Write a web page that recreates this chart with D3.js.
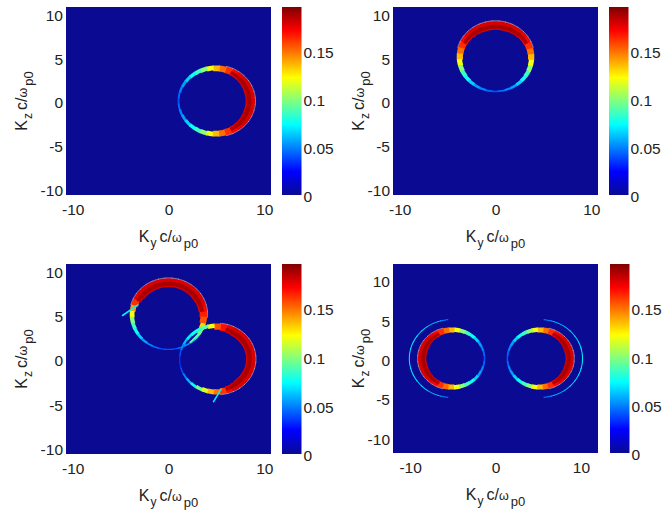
<!DOCTYPE html>
<html>
<head>
<meta charset="utf-8">
<script src="https://cdn.jsdelivr.net/npm/d3@7"></script>
<style>
body { margin: 0; background: #fff; }
svg text { font-family: "Liberation Sans", Arial, sans-serif; fill: #222; }
</style>
</head>
<body>
<div id="chart"></div>
<script>
// tick values
const xTicks = [-10, 0, 10];
const yTicks = [-10, -5, 0, 5, 10];
const cbarTicks = [0, 0.05, 0.1, 0.15];
const cMax = 0.195;
// half range of K (in c/omega_p0) shown in each panel
const kRange = [10.7, 10.7, 10.7, 12];

// angle grid of the ring samples (deg, counter clockwise from +Ky)
const angles = [0, 10, 20, 30, 40, 50, 60, 70, 80, 90, 100, 110, 120, 130, 140, 150, 160, 170,
  180, 190, 200, 210, 220, 230, 240, 250, 260, 270, 280, 290, 300, 310, 320, 330, 340, 350];

// intensity and band width of a single ring, measured from its bright side
const profileVal = [0.178, 0.178, 0.178, 0.178, 0.178, 0.175, 0.17, 0.162, 0.15, 0.135, 0.12, 0.10,
  0.085, 0.075, 0.065, 0.055, 0.05, 0.045, 0.04, 0.045, 0.05, 0.055, 0.065, 0.075,
  0.085, 0.10, 0.12, 0.135, 0.15, 0.162, 0.17, 0.175, 0.178, 0.178, 0.178, 0.178];
const profileW = [1.0, 1.0, 1.0, 0.95, 0.9, 0.85, 0.8, 0.75, 0.7, 0.65, 0.55, 0.5,
  0.45, 0.4, 0.35, 0.3, 0.25, 0.2, 0.18, 0.2, 0.25, 0.3, 0.35, 0.4,
  0.45, 0.5, 0.55, 0.65, 0.7, 0.75, 0.8, 0.85, 0.9, 0.95, 1.0, 1.0];

// panel 3, upper ring (centre 0,5)
const ringAVal = [0.165, 0.172, 0.178, 0.178, 0.178, 0.178, 0.178, 0.178, 0.178, 0.178, 0.178, 0.178,
  0.178, 0.178, 0.178, 0.175, 0.162, 0.14, 0.12, 0.10, 0.085, 0.075, 0.065, 0.055,
  0.05, 0.045, 0.04, 0.04, 0.04, 0.045, 0.05, 0.06, 0.075, 0.10, 0.13, 0.155];
const ringAW = [0.8, 0.9, 0.95, 1.0, 1.0, 1.0, 1.0, 1.0, 1.0, 1.0, 1.0, 1.0,
  1.0, 1.0, 1.0, 0.9, 0.75, 0.6, 0.5, 0.45, 0.4, 0.35, 0.3, 0.25,
  0.2, 0.18, 0.15, 0.15, 0.15, 0.18, 0.2, 0.25, 0.3, 0.4, 0.55, 0.7];
// panel 3, lower ring (centre 5,0)
const ringBVal = [0.178, 0.178, 0.178, 0.178, 0.178, 0.178, 0.178, 0.175, 0.168, 0.155, 0.12, 0.09,
  0.08, 0.075, 0.07, 0.06, 0.05, 0.04, 0.035, 0.035, 0.04, 0.05, 0.06, 0.075,
  0.095, 0.115, 0.135, 0.148, 0.16, 0.17, 0.178, 0.178, 0.178, 0.178, 0.178, 0.178];
const ringBW = [1.0, 1.0, 1.0, 1.0, 1.0, 1.0, 1.0, 0.9, 0.8, 0.7, 0.5, 0.4,
  0.35, 0.35, 0.3, 0.25, 0.2, 0.15, 0.12, 0.12, 0.15, 0.2, 0.25, 0.3,
  0.4, 0.5, 0.55, 0.6, 0.7, 0.8, 0.9, 1.0, 1.0, 1.0, 1.0, 1.0];

// panel 4, faint outer arcs
const outerLeftVal = [0, 0, 0, 0, 0, 0, 0, 0, 0, 0, 0.05, 0.06,
  0.06, 0.065, 0.065, 0.07, 0.07, 0.07, 0.07, 0.07, 0.07, 0.07, 0.065, 0.065,
  0.06, 0.06, 0.05, 0, 0, 0, 0, 0, 0, 0, 0, 0];
const outerRightVal = [0.07, 0.07, 0.07, 0.065, 0.065, 0.06, 0.06, 0.06, 0.05, 0, 0, 0,
  0, 0, 0, 0, 0, 0, 0, 0, 0, 0, 0, 0,
  0, 0, 0, 0, 0.05, 0.06, 0.06, 0.06, 0.065, 0.065, 0.07, 0.07];
const outerW = 0.12;

// darker core inside the brightest part of each band
const coreVal = 0.19;

// short streaks in panel 3: [ky1, kz1, ky2, kz2, value]
const streaks = [
  [-4.8, 4.9, -3.2, 6.1, 0.07],
  [4.7, -4.8, 5.5, -3.4, 0.07],
  [2.3, 1.9, 3.4, 3.1, 0.09]
];

const rings = [
  {panel: 0, cx: 5, cy: 0, r: 4.05, rot: 0, val: profileVal, w: profileW},
  {panel: 1, cx: 0, cy: 5.05, r: 4.05, rot: 90, val: profileVal, w: profileW},
  {panel: 2, cx: 0, cy: 5.05, r: 4.05, rot: 0, val: ringAVal, w: ringAW},
  {panel: 2, cx: 5.1, cy: 0, r: 4.0, rot: 0, val: ringBVal, w: ringBW},
  {panel: 3, cx: -5.15, cy: 0, r: 5.0, rot: 0, val: outerLeftVal, w: outerW},
  {panel: 3, cx: 5.25, cy: 0, r: 5.0, rot: 0, val: outerRightVal, w: outerW},
  {panel: 3, cx: -5.15, cy: 0, r: 3.95, rot: 180, val: profileVal, w: profileW},
  {panel: 3, cx: 5.25, cy: 0, r: 3.95, rot: 0, val: profileVal, w: profileW}
];

// layout of the four sub figures
const panels = [
  {x0: 66, x1: 271, y0: 7, y1: 195, cb: 282, yl: 27},
  {x0: 393, x1: 598, y0: 7, y1: 195, cb: 609, yl: 364},
  {x0: 66, x1: 271, y0: 264, y1: 454, cb: 282, yl: 27},
  {x0: 393, x1: 598, y0: 264, y1: 453, cb: 610, yl: 364}
];
const cbWidth = 19.5;

const jetStops = [[0, "#0a0a93"], [0.125, "#0000ff"], [0.375, "#00ffff"],
  [0.625, "#ffff00"], [0.875, "#ff0000"], [1, "#800000"]];
const color = d3.scaleLinear()
  .domain(jetStops.map(s => s[0] * cMax))
  .range(jetStops.map(s => s[1]))
  .clamp(true);

var svg = d3.select("#chart").append("svg")
  .attr("width", 667)
  .attr("height", 513);

var defs = svg.append("defs");
var grad = defs.append("linearGradient")
  .attr("id", "jet")
  .attr("x1", 0).attr("y1", 1).attr("x2", 0).attr("y2", 0);
grad.selectAll("stop")
  .data(jetStops)
  .enter().append("stop")
    .attr("offset", d => d[0])
    .attr("stop-color", d => d[1]);

const toRad = Math.PI / 180;
const half = 5.6; // half angular width of a drawn ring segment (with overlap)

// points of an arc at radius rr around the segment angle a
function arcPts(ring, a, rr) {
  const pts = [];
  for (let k = 0; k <= 6; k++) {
    const t = (a - half + k * (2 * half / 6)) * toRad;
    pts.push([ring.cx + rr * Math.cos(t), ring.cy + rr * Math.sin(t)]);
  }
  return pts;
}

panels.forEach(function(p, pi) {
  const kr = kRange[pi];
  const x = d3.scaleLinear().domain([-kr, kr]).range([p.x0, p.x1]);
  const y = d3.scaleLinear().domain([-kr, kr]).range([p.y1, p.y0]);
  const line = d3.line().x(d => x(d[0])).y(d => y(d[1]));

  defs.append("clipPath").attr("id", "clip" + pi)
    .append("rect")
      .attr("x", p.x0).attr("y", p.y0)
      .attr("width", p.x1 - p.x0).attr("height", p.y1 - p.y0);

  var g = svg.append("g");
  g.append("rect")
    .attr("x", p.x0).attr("y", p.y0)
    .attr("width", p.x1 - p.x0).attr("height", p.y1 - p.y0)
    .attr("fill", color(0));

  var plot = g.append("g").attr("clip-path", "url(#clip" + pi + ")");

  rings.filter(d => d.panel === pi).forEach(function(ring) {
    const segs = angles.map(function(a, i) {
      return {
        a: a + ring.rot,
        v: ring.val[i],
        w: Array.isArray(ring.w) ? ring.w[i] : ring.w
      };
    }).filter(s => s.v > 0);

    plot.selectAll(null)
      .data(segs)
      .enter().append("path")
        .attr("d", s => line(arcPts(ring, s.a, ring.r).concat(arcPts(ring, s.a, ring.r - s.w).reverse())) + "Z")
        .attr("fill", s => color(s.v));

    // darker core in the inner half of the strongest part
    plot.selectAll(null)
      .data(segs.filter(s => s.v >= 0.17))
      .enter().append("path")
        .attr("d", s => line(arcPts(ring, s.a, ring.r - s.w * 0.4).concat(arcPts(ring, s.a, ring.r - s.w * 0.85).reverse())) + "Z")
        .attr("fill", color(coreVal))
        .attr("fill-opacity", 0.75);

    // pale rim along the outside of the bright band
    plot.selectAll(null)
      .data(segs.filter(s => s.v >= 0.16))
      .enter().append("path")
        .attr("d", s => line(arcPts(ring, s.a, ring.r + 0.03)))
        .attr("fill", "none")
        .attr("stroke", "#f2d2bc")
        .attr("stroke-width", 0.9)
        .attr("stroke-opacity", 0.6);
  });

  if (pi === 2) {
    plot.selectAll(null)
      .data(streaks)
      .enter().append("line")
        .attr("x1", d => x(d[0])).attr("y1", d => y(d[1]))
        .attr("x2", d => x(d[2])).attr("y2", d => y(d[3]))
        .attr("stroke", d => color(d[4]))
        .attr("stroke-width", 1.6)
        .attr("stroke-linecap", "round");
  }

  // axes (labels only, as in the original)
  g.append("g")
    .attr("transform", "translate(0," + p.y1 + ")")
    .call(d3.axisBottom(x).tickValues(xTicks).tickSize(0).tickPadding(9).tickFormat(d => String(d)))
    .call(a => a.select(".domain").remove())
    .selectAll("text")
      .attr("font-size", 15.5)
      .attr("font-family", null);

  g.append("g")
    .attr("transform", "translate(" + p.x0 + ",0)")
    .call(d3.axisLeft(y).tickValues(yTicks).tickSize(0).tickPadding(3).tickFormat(d => String(d)))
    .call(a => a.select(".domain").remove())
    .selectAll("text")
      .attr("font-size", 15.5)
      .attr("font-family", null)
      .attr("dy", "0.45em");

  // colour bar
  const cy = d3.scaleLinear().domain([0, cMax]).range([p.y1, p.y0]);
  g.append("rect")
    .attr("x", p.cb).attr("y", p.y0)
    .attr("width", cbWidth).attr("height", p.y1 - p.y0)
    .attr("fill", "url(#jet)");
  g.append("g")
    .attr("transform", "translate(" + (p.cb + cbWidth) + ",0)")
    .call(d3.axisRight(cy).tickValues(cbarTicks).tickSize(0).tickPadding(2).tickFormat(d => String(d)))
    .call(a => a.select(".domain").remove())
    .selectAll("text")
      .attr("font-size", 15.5)
      .attr("font-family", null)
      .attr("dy", "0.45em");

  // axis titles
  const xl = g.append("text")
    .attr("x", (p.x0 + p.x1) / 2)
    .attr("y", p.y1 + 47)
    .attr("text-anchor", "middle")
    .attr("font-size", 16);
  xl.append("tspan").text("K");
  xl.append("tspan").attr("font-size", 12).attr("dy", 5).attr("dx", 1).text("y");
  xl.append("tspan").attr("dy", -5).attr("dx", 3).text("c/");
  xl.append("tspan").attr("font-size", 12.5).text("ω");
  xl.append("tspan").attr("font-size", 13).attr("dy", 6).attr("dx", 2).text("p0");

  const yc = (p.y0 + p.y1) / 2;
  const yl = g.append("text")
    .attr("transform", "translate(" + p.yl + "," + yc + ") rotate(-90)")
    .attr("text-anchor", "middle")
    .attr("font-size", 16);
  yl.append("tspan").text("K");
  yl.append("tspan").attr("font-size", 12).attr("dy", 5).attr("dx", 1).text("z");
  yl.append("tspan").attr("dy", -5).attr("dx", 3).text("c/");
  yl.append("tspan").attr("font-size", 12.5).text("ω");
  yl.append("tspan").attr("font-size", 13).attr("dy", 6).attr("dx", 2).text("p0");
});
</script>
</body>
</html>
